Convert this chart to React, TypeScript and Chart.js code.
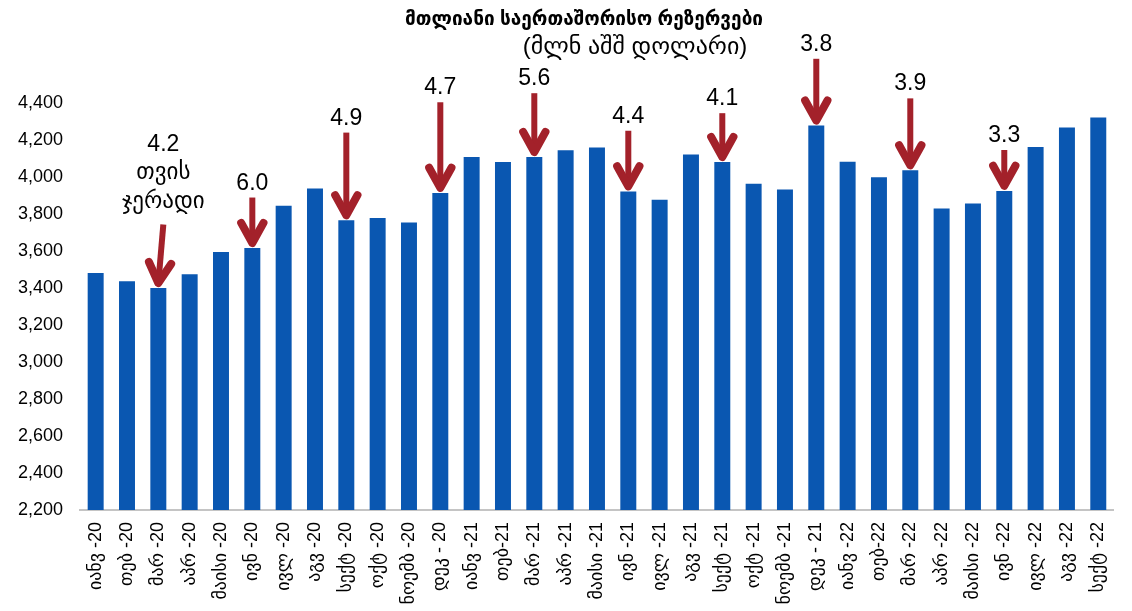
import React, { useEffect, useRef } from 'react';
import { Chart, registerables } from 'chart.js';

Chart.register(...registerables);

const categories = [
  'იანვ -20', 'თებ -20', 'მარ -20', 'აპრ -20', 'მაისი -20', 'ივნ -20', 'ივლ -20', 'აგვ -20', 'სექტ -20', 'ოქტ -20', 'ნოემბ -20', 'დეკ - 20',
  'იანვ -21', 'თებ-21', 'მარ -21', 'აპრ -21', 'მაისი -21', 'ივნ -21', 'ივლ -21', 'აგვ -21', 'სექტ -21', 'ოქტ -21', 'ნოემბ -21', 'დეკ - 21',
  'იანვ -22', 'თებ-22', 'მარ -22', 'აპრ -22', 'მაისი -22', 'ივნ -22', 'ივლ -22', 'აგვ -22', 'სექტ -22',
];

const reserves = [
  3481, 3437, 3400, 3475, 3595, 3616, 3844, 3938, 3766, 3779, 3754, 3914,
  4108, 4081, 4108, 4144, 4160, 3922, 3877, 4122, 4081, 3963, 3933, 4278,
  4082, 3998, 4036, 3830, 3857, 3925, 4162, 4267, 4321,
];

const yMin = 2200;
const yMax = 4400;
const yStep = 200;

const arrowIndex = [2, 5, 8, 11, 14, 17, 20, 23, 26, 29];
const arrowTop = [3743, 3889, 4240, 4404, 4453, 4250, 4345, 4639, 4425, 4146];
const arrowLabels = [
  ['4.2', 'თვის', 'ჯერადი'], ['6.0'], ['4.9'], ['4.7'], ['5.6'], ['4.4'], ['4.1'], ['3.8'], ['3.9'], ['3.3'],
];

const titleText = 'მთლიანი საერთაშორისო რეზერვები';
const subtitleText = '(მლნ აშშ დოლარი)';

const FONT = '"Liberation Sans", "DejaVu Sans", Arial, sans-serif';
const ARROW_COLOR = '#a3212a';

const arrowPlugin = {
  id: 'arrows',
  afterDatasetsDraw(chart: any) {
    const ctx = chart.ctx;
    const meta = chart.getDatasetMeta(0);
    const yScale = chart.scales.y;
    ctx.save();
    arrowIndex.forEach((idx, k) => {
      const bar = meta.data[idx];
      if (!bar) return;
      const tipX = bar.x;
      const tipY = bar.y - 5;
      const topX = bar.x + (k === 0 ? 5 : 0);
      const topY = yScale.getPixelForValue(arrowTop[k]);
      const dx = tipX - topX;
      const dy = tipY - topY;
      const len = Math.sqrt(dx * dx + dy * dy);
      const ux = dx / len;
      const uy = dy / len;
      ctx.strokeStyle = ARROW_COLOR;
      ctx.lineWidth = 6;
      ctx.lineCap = 'butt';
      ctx.beginPath();
      ctx.moveTo(topX, topY);
      ctx.lineTo(tipX - ux * 3, tipY - uy * 3);
      ctx.stroke();
      const bx = -ux;
      const by = -uy;
      const ang = (29 * Math.PI) / 180;
      const wl = 23;
      const w1x = tipX + wl * (bx * Math.cos(ang) - by * Math.sin(ang));
      const w1y = tipY + wl * (bx * Math.sin(ang) + by * Math.cos(ang));
      const w2x = tipX + wl * (bx * Math.cos(-ang) - by * Math.sin(-ang));
      const w2y = tipY + wl * (bx * Math.sin(-ang) + by * Math.cos(-ang));
      ctx.lineWidth = 8;
      ctx.lineCap = 'round';
      ctx.lineJoin = 'round';
      ctx.beginPath();
      ctx.moveTo(w1x, w1y);
      ctx.lineTo(tipX, tipY);
      ctx.lineTo(w2x, w2y);
      ctx.stroke();
      const lines = arrowLabels[k];
      ctx.fillStyle = '#000';
      ctx.font = `23px ${FONT}`;
      ctx.textAlign = 'center';
      ctx.textBaseline = 'alphabetic';
      const lastBase = topY - 8 - (lines.length > 1 ? 9 : 0);
      for (let i = 0; i < lines.length; i++) {
        const base = lastBase - (lines.length - 1 - i) * 28.5;
        ctx.fillText(lines[i], topX, base);
      }
    });
    ctx.restore();
  },
};

const titlePlugin = {
  id: 'customTitle',
  afterDraw(chart: any) {
    const ctx = chart.ctx;
    ctx.save();
    ctx.fillStyle = '#000';
    ctx.textAlign = 'center';
    ctx.textBaseline = 'middle';
    ctx.font = `bold 19px ${FONT}`;
    ctx.fillText(titleText, 584, 20);
    ctx.font = `24px ${FONT}`;
    ctx.fillText(subtitleText, 635, 47);
    ctx.restore();
  },
};

export default function App() {
  const canvasRef = useRef<HTMLCanvasElement | null>(null);

  useEffect(() => {
    if (!canvasRef.current) return;
    const chart = new Chart(canvasRef.current, {
      type: 'bar',
      data: {
        labels: categories,
        datasets: [
          {
            data: reserves,
            backgroundColor: '#0a57b1',
            borderWidth: 0,
            barPercentage: 0.51,
            categoryPercentage: 1,
          },
        ],
      },
      options: {
        animation: false,
        responsive: true,
        maintainAspectRatio: false,
        layout: { padding: { top: 103, right: 8, left: 0, bottom: 0 } },
        plugins: {
          legend: { display: false },
          title: { display: false },
          tooltip: { enabled: false },
        },
        scales: {
          x: {
            grid: { display: false, drawTicks: false },
            border: { display: true, color: '#c4c4c4', width: 2 },
            ticks: {
              autoSkip: false,
              minRotation: 90,
              maxRotation: 90,
              padding: 12,
              color: '#000',
              font: { size: 18, family: FONT },
            },
            afterFit: (scale: any) => {
              scale.height = 101;
            },
          },
          y: {
            min: yMin,
            max: yMax,
            grid: { display: false, drawTicks: false },
            border: { display: false },
            ticks: {
              stepSize: yStep,
              padding: 17,
              color: '#000',
              font: { size: 18, family: FONT },
              callback: (v: any) => Number(v).toLocaleString('en-US'),
            },
            afterFit: (scale: any) => {
              scale.width = 80;
            },
          },
        },
      },
      plugins: [arrowPlugin, titlePlugin],
    });
    return () => chart.destroy();
  }, []);

  return (
    <div style={{ position: 'fixed', left: 0, top: 0, width: 1132, height: 611, background: '#fff' }}>
      <canvas ref={canvasRef} />
    </div>
  );
}
